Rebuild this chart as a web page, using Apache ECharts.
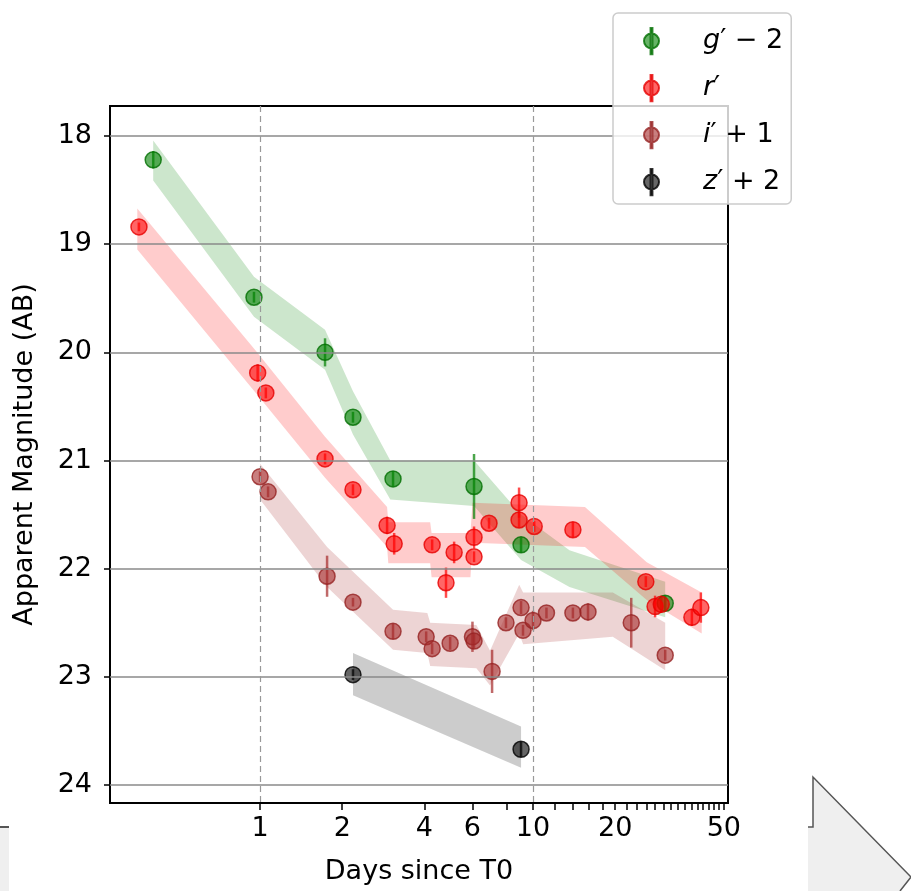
<!DOCTYPE html>
<html>
<head>
<meta charset="utf-8">
<script src="https://cdn.jsdelivr.net/npm/echarts@6/dist/echarts.min.js"></script>
<style>
html, body { margin: 0; padding: 0; background: #fff; }
#wrap { position: relative; width: 911px; height: 891px; }
#chart { width: 911px; height: 891px; }
#strip { position: absolute; left: 0; top: 826px; width: 9px; height: 65px; background: #efefef; border-top: 2px solid #555; box-sizing: border-box; }
</style>
</head>
<body>
<div id="wrap">
<div id="chart"></div>
<div id="strip"></div>
</div>
<script>
// ---- photometry: days since T0, apparent magnitude (with offset), error ----
var gDays = [0.406, 0.95, 1.73, 2.19, 3.07, 6.08, 9.04, 30.5];
var gMag  = [18.22, 19.49, 20.0, 20.6, 21.17, 21.24, 21.78, 22.32];
var gErr  = [0.08, 0.05, 0.13, 0.05, 0.07, 0.3, 0.07, 0.07];

var rDays = [0.36, 0.98, 1.05, 1.73, 2.19, 2.92, 3.1, 4.27, 4.8, 5.14, 6.08, 6.08, 6.9, 8.89, 8.89, 10.1, 14.0, 25.9, 28.0, 29.5, 38.2, 41.2];
var rMag  = [18.84, 20.19, 20.375, 20.985, 21.27, 21.6, 21.77, 21.78, 22.13, 21.85, 21.71, 21.89, 21.58, 21.39, 21.55, 21.61, 21.64, 22.12, 22.35, 22.33, 22.45, 22.36];
var rErr  = [0.04, 0.08, 0.05, 0.05, 0.05, 0.08, 0.1, 0.05, 0.14, 0.1, 0.1, 0.05, 0.05, 0.14, 0.07, 0.05, 0.07, 0.05, 0.1, 0.08, 0.08, 0.14];

var iDays = [1.0, 1.07, 1.76, 2.19, 3.07, 4.06, 4.27, 4.97, 6.0, 6.08, 7.08, 7.96, 9.04, 9.19, 10.0, 11.2, 14.0, 15.9, 22.9, 30.5];
var iMag  = [21.15, 21.29, 22.07, 22.31, 22.58, 22.63, 22.74, 22.69, 22.63, 22.67, 22.95, 22.5, 22.36, 22.57, 22.48, 22.41, 22.41, 22.4, 22.5, 22.8];
var iErr  = [0.05, 0.05, 0.19, 0.04, 0.07, 0.05, 0.05, 0.06, 0.14, 0.07, 0.2, 0.05, 0.06, 0.05, 0.09, 0.05, 0.05, 0.08, 0.23, 0.05];

var zDays = [2.19, 9.04];
var zMag  = [22.98, 23.67];
var zErr  = [0.05, 0.07];

// ---- model bands: days, bright edge, faint edge ----
var gBandDays = [0.406, 0.95, 1.73, 2.19, 3.0, 6.08, 9.04, 13.6, 30.5];
var gBandLo   = [18.04, 19.30, 19.79, 20.36, 21.0, 21.0, 21.5, 21.83, 22.12];
var gBandHi   = [18.41, 19.67, 20.16, 20.76, 21.36, 21.42, 21.92, 22.17, 22.45];

var rBandDays = [0.355, 0.975, 1.73, 2.92, 2.95, 4.2, 4.25, 5.9, 6.0, 15.5, 26.1, 41.5];
var rBandLo   = [18.67, 20.0, 20.78, 21.43, 21.57, 21.57, 21.67, 21.67, 21.39, 21.43, 21.94, 22.22];
var rBandHi   = [19.05, 20.39, 21.16, 21.8, 21.95, 21.95, 22.08, 22.08, 21.76, 21.8, 22.29, 22.6];

var iBandDays = [1.0, 1.76, 3.07, 4.1, 4.2, 6.2, 6.96, 8.9, 9.2, 19.6, 30.5];
var iBandLo   = [21.03, 21.8, 22.38, 22.41, 22.5, 22.52, 22.76, 22.15, 22.22, 22.22, 22.5];
var iBandHi   = [21.36, 22.17, 22.75, 22.78, 22.9, 22.92, 23.08, 22.6, 22.7, 22.63, 22.94];

var zBandDays = [2.19, 9.04];
var zBandLo   = [22.78, 23.46];
var zBandHi   = [23.17, 23.84];

// ---- axes ----
var xMinDays = 0.282, xMaxDays = 51.8;
var yMin = 17.722, yMax = 24.167;
var xTickLabels = [1, 2, 4, 6, 10, 20, 50];
var xMinorTicks = [1, 2, 4, 6, 8, 10, 12, 14, 16, 18, 20, 22, 24, 26, 28, 30, 32, 34, 36, 38, 40, 42, 44, 46, 48, 50];
var xDashed = [1, 10];
var yTicks = [18, 19, 20, 21, 22, 23, 24];

var names = ['g′ − 2', 'r′', 'i′ + 1', 'z′ + 2'];
var legendRich = { 'g′ − 2': '{m|g}′ − 2', 'r′': '{m|r}′', 'i′ + 1': '{m|i}′ + 1', 'z′ + 2': '{m|z}′ + 2' };
var FONT = 'DejaVu Sans';

// x is drawn on a log10 value axis
function lg(v) { return Math.log10(v); }

function points(days, mag, err) {
    return days.map(function (d, i) { return [lg(d), mag[i], err[i]]; });
}

function bandSeries(days, lo, hi, fill) {
    var rows = days.map(function (d, i) { return [lg(d), lo[i], hi[i]]; });
    return {
        type: 'custom',
        z: 1,
        silent: true,
        clip: true,
        encode: { x: 0, y: [1, 2] },
        data: rows,
        renderItem: function (params, api) {
            if (params.dataIndex !== 0) return;
            var top = [], bot = [];
            rows.forEach(function (r) {
                top.push(api.coord([r[0], r[1]]));
                bot.unshift(api.coord([r[0], r[2]]));
            });
            return { type: 'polygon', shape: { points: top.concat(bot) }, style: { fill: fill } };
        }
    };
}

function errorSeries(data, color) {
    return {
        type: 'custom',
        z: 3,
        silent: true,
        encode: { x: 0, y: 1 },
        data: data,
        renderItem: function (params, api) {
            var x = api.value(0), y = api.value(1), e = api.value(2);
            var a = api.coord([x, y - e]), b = api.coord([x, y + e]);
            return {
                type: 'line',
                shape: { x1: a[0], y1: a[1], x2: b[0], y2: b[1] },
                style: { stroke: color, lineWidth: 2.5 }
            };
        }
    };
}

function markerSeries(name, data, fill, edge) {
    return {
        name: name,
        type: 'scatter',
        z: 4,
        symbolSize: 16,
        data: data.map(function (p) { return [p[0], p[1]]; }),
        itemStyle: { color: fill, borderColor: edge, borderWidth: 1.5, opacity: 1 }
    };
}

var gPts = points(gDays, gMag, gErr);
var rPts = points(rDays, rMag, rErr);
var iPts = points(iDays, iMag, iErr);
var zPts = points(zDays, zMag, zErr);

var gridLineStyle = { color: '#8a8a8a', width: 1.5, type: 'solid' };
var dashStyle = { color: '#999', width: 1.2, type: [6, 4] };

var chart = echarts.init(document.getElementById('chart'));
chart.setOption({
    animation: false,
    backgroundColor: '#fff',
    textStyle: { fontFamily: FONT },
    grid: {
        left: 110, right: 183, top: 106, bottom: 88,
        show: true, borderColor: '#000', borderWidth: 2, backgroundColor: 'transparent'
    },
    legend: {
        data: names,
        orient: 'vertical',
        left: 613,
        top: 13,
        padding: [13, 8, 7, 30],
        itemGap: 17,
        itemWidth: 15,
        itemHeight: 28,
        selectedMode: false,
        icon: 'path://M7,0h2v28h-2zM8,6a8,8 0 1,0 0,16a8,8 0 1,0 0,-16z',
        backgroundColor: 'rgba(255,255,255,0.8)',
        borderColor: '#cccccc',
        borderWidth: 1.5,
        borderRadius: 5,
        z: 10,
        formatter: function (name) { return '{p|}' + legendRich[name]; },
        textStyle: {
            fontFamily: FONT, fontSize: 27, color: '#000', lineHeight: 30,
            rich: {
                p: { width: 39 },
                m: { fontFamily: FONT, fontSize: 27, fontStyle: 'italic', color: '#000' }
            }
        }
    },
    xAxis: {
        type: 'value',
        min: lg(xMinDays),
        max: lg(xMaxDays),
        name: 'Days since T0',
        nameLocation: 'middle',
        nameGap: 55,
        nameTextStyle: { fontFamily: FONT, fontSize: 27, color: '#000' },
        axisLine: { show: true, onZero: false, lineStyle: { color: '#000', width: 2 } },
        axisTick: { show: true, length: 7, customValues: xMinorTicks.map(lg), lineStyle: { color: '#000', width: 1.5 } },
        axisLabel: {
            customValues: xTickLabels.map(lg),
            margin: 12,
            fontFamily: FONT, fontSize: 27, color: '#000',
            formatter: function (v) { return String(Math.round(Math.pow(10, v))); }
        },
        splitLine: { show: false }
    },
    yAxis: {
        type: 'value',
        inverse: true,
        min: yMin,
        max: yMax,
        name: 'Apparent Magnitude (AB)',
        nameLocation: 'middle',
        nameGap: 72,
        nameTextStyle: { fontFamily: FONT, fontSize: 27, color: '#000' },
        axisLine: { show: true, onZero: false, lineStyle: { color: '#000', width: 2 } },
        axisTick: { show: true, length: 6, customValues: yTicks, lineStyle: { color: '#000', width: 1.5 } },
        axisLabel: { customValues: yTicks, margin: 18, fontFamily: FONT, fontSize: 27, color: '#000' },
        splitLine: { show: false }
    },
    series: [
        bandSeries(gBandDays, gBandLo, gBandHi, 'rgba(0,128,0,0.2)'),
        bandSeries(rBandDays, rBandLo, rBandHi, 'rgba(255,0,0,0.2)'),
        bandSeries(iBandDays, iBandLo, iBandHi, 'rgba(165,42,42,0.2)'),
        bandSeries(zBandDays, zBandLo, zBandHi, 'rgba(0,0,0,0.2)'),
        {
            // grid lines
            type: 'line',
            z: 2,
            data: [],
            silent: true,
            markLine: {
                silent: true,
                symbol: 'none',
                label: { show: false },
                animation: false,
                data: yTicks.map(function (v) { return { yAxis: v, lineStyle: gridLineStyle }; })
                    .concat(xDashed.map(function (v) { return { xAxis: lg(v), lineStyle: dashStyle }; }))
            }
        },
        errorSeries(gPts, 'rgba(0,128,0,0.7)'),
        errorSeries(rPts, 'rgba(255,0,0,0.7)'),
        errorSeries(iPts, 'rgba(165,42,42,0.7)'),
        errorSeries(zPts, 'rgba(0,0,0,0.7)'),
        markerSeries(names[0], gPts, 'rgba(0,128,0,0.6)', 'rgba(0,110,0,0.8)'),
        markerSeries(names[1], rPts, 'rgba(255,0,0,0.6)', 'rgba(230,0,0,0.8)'),
        markerSeries(names[2], iPts, 'rgba(165,42,42,0.6)', 'rgba(150,35,35,0.8)'),
        markerSeries(names[3], zPts, 'rgba(0,0,0,0.6)', 'rgba(0,0,0,0.8)')
    ],
    graphic: [
        {
            type: 'polygon', id: 'rightCorner', silent: true,
            shape: { points: [[808, 827], [813, 827], [813, 777], [911, 877], [900, 891], [808, 891]] },
            style: { fill: '#efefef' }
        },
        {
            type: 'polyline', id: 'rightEdge', silent: true,
            shape: { points: [[808, 827], [813, 827], [813, 777], [911, 877], [900, 891]] },
            style: { stroke: '#555', lineWidth: 1.5, fill: null }
        }
    ]
});
</script>
</body>
</html>
